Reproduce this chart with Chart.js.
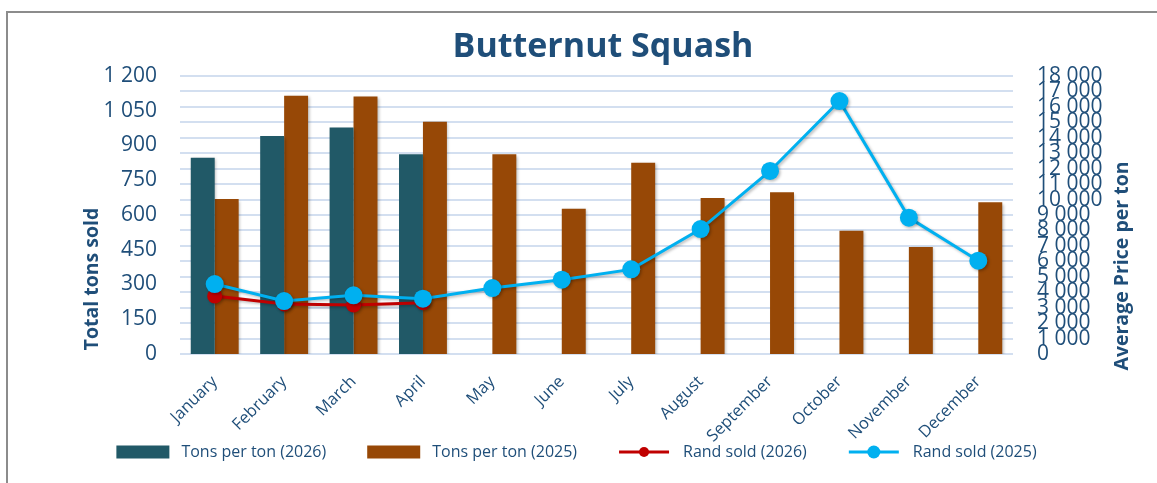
<!DOCTYPE html>
<html>
<head>
<meta charset="utf-8">
<script src="https://cdn.jsdelivr.net/npm/chart.js@4.4.1/dist/chart.umd.min.js"></script>
<style>
  html, body { margin: 0; padding: 0; background: #ffffff; }
  #wrap { position: relative; width: 1157px; height: 483px; }
  canvas { display: block; }
</style>
</head>
<body>
<div id="wrap"><canvas id="c" width="1157" height="483"></canvas></div>
<script>
const categories = ['January','February','March','April','May','June','July','August','September','October','November','December'];
const tons2026 = [847, 941, 978, 862, null, null, null, null, null, null, null, null];
const tons2025 = [669, 1115, 1111, 1003, 862, 627, 826, 673, 698, 532, 462, 655];
const rand2026 = [3756, 3240, 3170, 3320, null, null, null, null, null, null, null, null];
const rand2025 = [4530, 3430, 3800, 3580, 4270, 4810, 5480, 8090, 11850, 16380, 8830, 6040];
const leftTickLabels = ['0','150','300','450','600','750','900','1 050','1 200'];
const rightTickLabels = ['0','1 000','2 000','3 000','4 000','5 000','6 000','7 000','8 000','9 000','10 000','11 000','12 000','13 000','14 000','15 000','16 000','17 000','18 000'];
const seriesNames = ['Tons per ton (2026)','Tons per ton (2025)','Rand sold (2026)','Rand sold (2025)'];

const TEXT = '#1f4e79';
const FONT = "'Open Sans', 'DejaVu Sans', sans-serif";
const C_TEAL = '#215967';
const C_ORANGE = '#974806';
const C_RED = '#c00000';
const C_BLUE = '#00b0f0';

const decor = {
  id: 'decor',
  beforeDraw(chart) {
    const ctx = chart.ctx;
    ctx.save();
    ctx.strokeStyle = '#8c8c8c';
    ctx.lineWidth = 2;
    ctx.beginPath();
    ctx.moveTo(7, 483); ctx.lineTo(7, 12); ctx.lineTo(1157, 12);
    ctx.stroke();
    ctx.restore();
  },
  beforeDatasetsDraw(chart) {
    const ctx = chart.ctx;
    ctx.save();
    ctx.shadowColor = 'rgba(0,0,0,0.28)';
    ctx.shadowBlur = 3;
    ctx.shadowOffsetX = 1.5;
    ctx.shadowOffsetY = 1.5;
  },
  afterDatasetsDraw(chart) {
    chart.ctx.restore();
  },
  afterDraw(chart) {
    const ctx = chart.ctx;
    ctx.save();
    ctx.fillStyle = TEXT;
    ctx.textAlign = 'center';
    ctx.textBaseline = 'alphabetic';
    ctx.font = "bold 34px " + FONT;
    ctx.fillText('Butternut Squash', 603, 57);
    ctx.textBaseline = 'middle';
    ctx.font = "bold 19.5px " + FONT;
    ctx.save();
    ctx.translate(92, 279);
    ctx.rotate(-Math.PI / 2);
    ctx.fillText('Total tons sold', 0, 0);
    ctx.restore();
    ctx.save();
    ctx.translate(1122, 266);
    ctx.rotate(-Math.PI / 2);
    ctx.fillText('Average Price per ton', 0, 0);
    ctx.restore();

    // legend
    ctx.font = "16px " + FONT;
    ctx.textAlign = 'left';
    ctx.textBaseline = 'middle';
    const ds = chart.data.datasets;
    const symW = 53, gap = 12, spacing = 41, cy = 452;
    const widths = ds.map(d => symW + gap + ctx.measureText(d.label).width);
    const total = widths.reduce((a, b) => a + b, 0) + spacing * (ds.length - 1);
    let x = 576.5 - total / 2;
    ds.forEach((d, i) => {
      if (d.type === 'bar') {
        ctx.fillStyle = d.backgroundColor;
        ctx.fillRect(x, cy - 6.5, symW, 13);
      } else {
        ctx.strokeStyle = d.borderColor;
        ctx.lineWidth = 3;
        ctx.beginPath(); ctx.moveTo(x + 1, cy); ctx.lineTo(x + symW - 2, cy); ctx.stroke();
        ctx.fillStyle = d.borderColor;
        ctx.beginPath(); ctx.arc(x + symW / 2 - 0.5, cy, d.legendDot, 0, Math.PI * 2); ctx.fill();
      }
      ctx.fillStyle = TEXT;
      ctx.fillText(d.label, x + symW + gap, cy + 0.5);
      x += widths[i] + spacing;
    });
    ctx.restore();
  }
};

function draw() {
  new Chart(document.getElementById('c'), {
    type: 'bar',
    data: {
      labels: categories,
      datasets: [
        { type: 'bar', label: seriesNames[0], data: tons2026, backgroundColor: C_TEAL, yAxisID: 'y', order: 2 },
        { type: 'bar', label: seriesNames[1], data: tons2025, backgroundColor: C_ORANGE, yAxisID: 'y', order: 2 },
        { type: 'line', label: seriesNames[2], data: rand2026, borderColor: C_RED, backgroundColor: C_RED,
          borderWidth: 3, pointRadius: 7.5, pointHoverRadius: 7.5, pointBorderWidth: 0, yAxisID: 'y1', order: 1,
          legendDot: 5, pointStyle: 'circle' },
        { type: 'line', label: seriesNames[3], data: rand2025, borderColor: C_BLUE, backgroundColor: C_BLUE,
          borderWidth: 3, pointRadius: 9, pointHoverRadius: 9, pointBorderWidth: 0, yAxisID: 'y1', order: 0,
          legendDot: 6.5, pointStyle: 'circle' }
      ]
    },
    options: {
      responsive: false,
      animation: false,
      layout: { padding: { left: 0, right: 0, top: 76, bottom: 0 } },
      datasets: { bar: { categoryPercentage: 0.69, barPercentage: 1.0 } },
      plugins: {
        title: { display: false },
        tooltip: { enabled: false },
        legend: { display: false }
      },
      scales: {
        x: {
          grid: { display: false, drawTicks: false },
          border: { display: false },
          ticks: {
            color: TEXT, font: { family: FONT, size: 16.5 },
            minRotation: 45, maxRotation: 45, padding: 18, autoSkip: false
          },
          afterFit(s) { s.height = 129; }
        },
        y: {
          position: 'left',
          min: 0, max: 1200,
          grid: { display: false, drawTicks: false },
          border: { display: false },
          ticks: {
            stepSize: 150, color: TEXT, font: { family: FONT, size: 21 }, padding: 23,
            callback: (v, i) => leftTickLabels[i]
          },
          afterFit(s) { s.width = 180; }
        },
        y1: {
          position: 'right',
          min: 0, max: 18000,
          grid: { display: true, color: '#d3dff0', lineWidth: 2, drawTicks: false },
          border: { display: false },
          ticks: {
            stepSize: 1000, autoSkip: false, color: TEXT, font: { family: FONT, size: 21 }, padding: 24,
            callback: (v, i) => rightTickLabels[i]
          },
          afterFit(s) { s.width = 144; }
        }
      }
    },
    plugins: [decor]
  });
}

const fontsReady = (document.fonts && document.fonts.load)
  ? Promise.all([
      document.fonts.load("16px 'Open Sans'"),
      document.fonts.load("bold 16px 'Open Sans'")
    ]).catch(() => {})
  : Promise.resolve();
fontsReady.then(draw, draw);
</script>
</body>
</html>
